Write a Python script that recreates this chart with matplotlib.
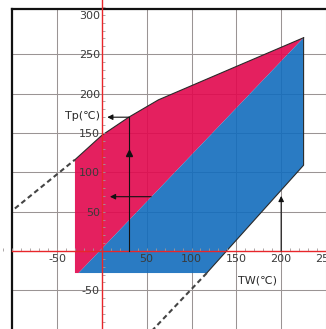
import matplotlib.pyplot as plt
from matplotlib.ticker import MultipleLocator

plt.rcParams['axes.unicode_minus'] = False
plt.rcParams['font.family'] = ['DejaVu Sans']

# upper limit of the working range (TW -> Tp)
upper_tw = [-30, 0, 30, 63, 149, 225]
upper_tp = [116, 147, 170, 192, 234, 271]

# remaining corners of the range
bottom_tp = -28
left_tw = -30
split_start_tw = -26      # pink/blue split leaves the bottom edge here
right_tw = 225
right_low_tp = 109
bottom_right_tw = 117

# dashed extensions of the limits
dash_left_tw = [-97, -30]
dash_left_tp = [54, 116]
dash_right_tw = [117, 57]
dash_right_tp = [-28, -100]

# reading examples (arrows)
ex1_tw, ex1_tp, ex1_mid, ex1_end = 30, 170, 125, 6
ex2_tw, ex2_tp, ex2_end = 55, 69, 9
ex3_tw, ex3_tp = 200, 70

xticks = [-50, 50, 100, 150, 200, 250]
yticks = [-50, 50, 100, 150, 200, 250, 300]
xgrid = [-50, 50, 100, 150, 200, 250]
ygrid = [-50, 50, 100, 150, 200, 250]
frame_tw = -100
frame_tp = 308

pink = '#e2084e'
blue = '#136dbd'

x_lo, x_hi = -113.6, 239.2
y_lo, y_hi = -99.1, 318.9

fig = plt.figure(figsize=(3.26, 3.29), dpi=100)
ax = fig.add_axes([0, 0, 1, 1])
ax.set_xlim(x_lo, x_hi)
ax.set_ylim(y_lo, y_hi)

# grid, only inside the frame
ax.vlines(xgrid, y_lo, frame_tp, color='#9a9494', lw=0.75, zorder=0.5)
ax.hlines(ygrid, frame_tw, x_hi + 30, color='#9a9494', lw=0.75, zorder=0.5)

# frame
ax.plot([frame_tw, frame_tw], [y_lo - 10, frame_tp], color='#111', lw=1.6, zorder=0.6)
ax.plot([frame_tw, x_hi + 30], [frame_tp, frame_tp], color='#111', lw=1.6, zorder=0.6)

# pink part
px = [left_tw] + upper_tw + [split_start_tw]
py = [bottom_tp] + upper_tp + [bottom_tp]
ax.fill(px, py, color=pink, alpha=0.9, lw=0, zorder=1)

# blue part
bx = [split_start_tw, right_tw, right_tw, bottom_right_tw]
by = [bottom_tp, upper_tp[-1], right_low_tp, bottom_tp]
ax.fill(bx, by, color=blue, alpha=0.9, lw=0, zorder=1)

# outlines
ax.plot(upper_tw, upper_tp, color='#2a2a2a', lw=0.8, zorder=1.2)
ax.plot([bottom_right_tw, right_tw, right_tw], [bottom_tp, right_low_tp, upper_tp[-1]],
        color='#2a2a2a', lw=0.8, zorder=1.2)

# dashed extensions
ax.plot(dash_left_tw, dash_left_tp, color='#444', lw=1.5, ls=(0, (2.4, 1.6)), zorder=1.2)
ax.plot(dash_right_tw, dash_right_tp, color='#444', lw=1.5, ls=(0, (2.4, 1.6)), zorder=1.2)

# reading arrows
arw = dict(arrowstyle='-|>', color='#111', lw=0.8, mutation_scale=8, shrinkA=0, shrinkB=0)
ax.plot([ex1_tw, ex1_tw], [0, ex1_tp], color='#111', lw=0.8, zorder=3)
ax.plot([ex1_tw], [ex1_mid], marker='^', ms=4, color='#111', zorder=3)
ax.annotate('', xy=(ex1_end, ex1_tp), xytext=(ex1_tw, ex1_tp), arrowprops=arw, zorder=3)
ax.annotate('', xy=(ex2_end, ex2_tp), xytext=(ex2_tw, ex2_tp), arrowprops=arw, zorder=3)
ax.annotate('', xy=(ex3_tw, ex3_tp), xytext=(ex3_tw, 0), arrowprops=arw, zorder=3)

# axes through the origin
for s in ['top', 'right']:
    ax.spines[s].set_visible(False)
ax.spines['left'].set_position(('data', 0))
ax.spines['bottom'].set_position(('data', 0))
ax.spines['bottom'].set_bounds(frame_tw, x_hi + 30)
for s in ['left', 'bottom']:
    ax.spines[s].set_color('#e8262a')
    ax.spines[s].set_linewidth(1.0)
    ax.spines[s].set_zorder(2.6)

ax.set_axisbelow(False)
ax.set_xticks(xticks)
ax.set_yticks(yticks)
ax.xaxis.set_minor_locator(MultipleLocator(10))
ax.yaxis.set_minor_locator(MultipleLocator(10))
ax.tick_params(which='both', direction='in', color='#a09a9a', length=2.5, width=0.6,
               labelsize=8, labelcolor='#3a3a3a')
ax.tick_params(axis='x', pad=2.5)
ax.tick_params(axis='y', pad=1.5)

ax.text(-2, 172, 'Tp(℃)', ha='right', va='center', fontsize=8, color='#2a2a2a', zorder=3)
ax.text(174, -38, 'TW(℃)', ha='center', va='center', fontsize=8, color='#2a2a2a', zorder=3)

fig.savefig('out.png', dpi=100)
